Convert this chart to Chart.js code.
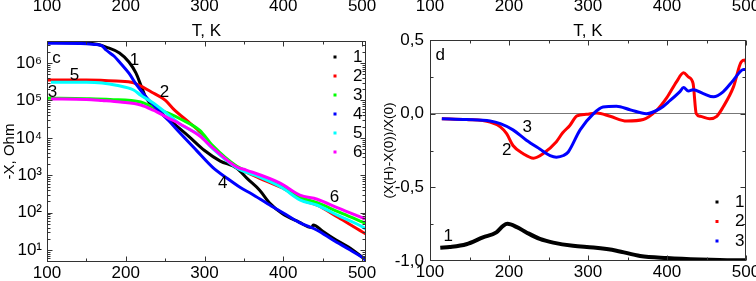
<!DOCTYPE html>
<html>
<head>
<meta charset="utf-8">
<script src="https://cdn.jsdelivr.net/npm/chart.js@4.4.1/dist/chart.umd.min.js"></script>
<style>
html, body { margin: 0; padding: 0; background: #fff; }
#wrap { position: relative; width: 756px; height: 281px; }
.panel { position: absolute; top: 0; width: 378px; height: 281px; }
</style>
</head>
<body>
<div id="wrap">
  <div class="panel" style="left:0"><canvas id="chartC"></canvas></div>
  <div class="panel" style="left:378px"><canvas id="chartD"></canvas></div>
</div>
<script>
// ===== panel c : -X (Ohm) vs T, log scale =====
const tempC1 = [100, 150, 165, 175, 192, 204, 213, 220, 226, 240, 260, 280, 300, 320, 341, 355, 370, 383, 399, 420, 436, 438, 450, 463, 485, 501, 505];
const ohmC1  = [3.55e6, 3.47e6, 3.16e6, 2.69e6, 1.86e6, 1.07e6, 5.4e5, 2.3e5, 1.15e5, 5.6e4, 2.5e4, 1.1e4, 4.6e3, 2.4e3, 1.55e3, 790, 400, 178, 93, 56, 40, 47, 32, 21, 11.2, 6.3, 5.5];

const tempC2 = [100, 150, 188, 210, 233, 250, 262, 280, 294, 310, 341, 370, 399, 425, 443, 470, 501, 505];
const ohmC2  = [3.55e5, 3.55e5, 3.3e5, 2.95e5, 1.66e5, 1.02e5, 5.5e4, 2.63e4, 1.45e4, 5.75e3, 1.66e3, 832, 457, 214, 158, 74, 30, 27];

const tempC3 = [100, 150, 180, 219, 235, 254, 270, 294, 310, 341, 370, 399, 421, 443, 470, 501, 505];
const ohmC3  = [1.15e5, 1.12e5, 1.07e5, 9.1e4, 6.6e4, 4.57e4, 3.16e4, 1.58e4, 6.3e3, 1.74e3, 955, 525, 263, 186, 105, 56, 51];

const tempC4 = [100, 150, 160, 170, 175, 185, 192, 204, 214, 226, 240, 255, 268, 290, 310, 330, 345, 360, 380, 400, 420, 443, 463, 485, 501, 505];
const ohmC4  = [3.39e6, 3.31e6, 3.16e6, 2.88e6, 2.24e6, 1.55e6, 1.07e6, 5.37e5, 2.57e5, 1.23e5, 5.9e4, 2.82e4, 1.41e4, 4.57e3, 1.66e3, 794, 479, 316, 174, 98, 55, 34, 18.6, 10, 6.2, 5.2];

const tempC5 = [105, 150, 170, 188, 210, 219, 233, 250, 270, 294, 310, 341, 370, 399, 421, 443, 470, 501, 505];
const ohmC5  = [3.09e5, 3.09e5, 2.95e5, 2.57e5, 1.91e5, 1.38e5, 9.1e4, 4.9e4, 2.24e4, 1.17e4, 5.25e3, 1.58e3, 891, 457, 219, 158, 83, 41, 36];

const tempC6 = [105, 150, 170, 193, 219, 235, 254, 270, 294, 310, 341, 353, 396, 421, 443, 470, 501, 505];
const ohmC6  = [1.1e5, 1.07e5, 1.0e5, 9.1e4, 7.6e4, 5.5e4, 3.39e4, 2.29e4, 1.12e4, 5.5e3, 1.66e3, 1.38e3, 617, 295, 229, 132, 72, 66];

// ===== panel d : (X(H)-X(0))/X(0) vs T =====
const tempD1 = [113, 125, 146, 167, 184, 193, 198, 210, 222, 239, 256, 281, 307, 336, 366, 400, 442, 484, 500];
const relD1  = [-0.91, -0.905, -0.886, -0.84, -0.806, -0.76, -0.748, -0.77, -0.806, -0.85, -0.875, -0.897, -0.909, -0.93, -0.966, -0.98, -0.99, -0.995, -0.995];

const tempD2 = [115, 146, 176, 189, 197, 205, 218, 231, 243, 260, 268, 277, 286, 298, 311, 328, 349, 370, 387, 400, 412, 421, 427, 433, 437, 442, 454, 463, 471, 484, 494, 499, 501];
const relD2  = [-0.034, -0.04, -0.057, -0.09, -0.136, -0.216, -0.272, -0.302, -0.272, -0.19, -0.13, -0.08, -0.015, -0.004, 0.005, -0.018, -0.05, -0.04, 0.023, 0.11, 0.216, 0.277, 0.25, 0.205, 0.0, -0.018, -0.034, -0.018, 0.045, 0.18, 0.352, 0.364, 0.32];

const tempD3 = [115, 146, 176, 189, 205, 222, 239, 252, 260, 269, 275, 290, 307, 319, 336, 353, 374, 391, 404, 416, 421, 427, 433, 446, 459, 471, 484, 497, 501];
const relD3  = [-0.034, -0.04, -0.05, -0.068, -0.11, -0.18, -0.24, -0.284, -0.295, -0.284, -0.26, -0.11, 0.0, 0.045, 0.05, 0.027, 0.0, 0.034, 0.09, 0.148, 0.177, 0.154, 0.163, 0.136, 0.114, 0.148, 0.227, 0.3, 0.3];

// ticks
const xTicks = [100, 200, 300, 400, 500];
const xMinor = [150, 250, 350, 450];
const yTicksC = [10, 100, 1000, 1e4, 1e5, 1e6];
const yTicksD = [-1.0, -0.5, 0.0, 0.5];
const yMinorD = [-0.75, -0.25, 0.25];

const FONT = '"Liberation Sans", Arial, sans-serif';
const SUP = { 1: '\u00b9', 2: '\u00b2', 3: '\u00b3', 4: '\u2074', 5: '\u2075', 6: '\u2076' };

function pts(t, v) { return t.map((x, i) => ({ x: x, y: v[i] })); }

function line(data, color, width, order) {
    return { data: data, borderColor: color, backgroundColor: color, borderWidth: width,
             pointRadius: 0, cubicInterpolationMode: 'monotone', order: order,
             xAxisID: 'x', yAxisID: 'y' };
}

// log minor ticks 2..9 per decade inside range
const yMinorC = [5, 6, 7, 8, 9];
for (let d = 10; d <= 1e6; d *= 10) {
    for (let m = 2; m <= 9; m++) {
        if (m * d <= 3.9e6) yMinorC.push(m * d);
    }
}

// frame, inward ticks, curve labels, legend
const decor = {
    id: 'decor',
    afterDatasetsDraw(chart, args, o) {
        const ctx = chart.ctx, a = chart.chartArea;
        const xs = chart.scales.x, ys = chart.scales.y;
        const L = Math.round(a.left) + 0.5, R = Math.round(a.right) - 0.5;
        const T = Math.round(a.top) + 0.5, B = Math.round(a.bottom) - 0.5;
        ctx.save();
        ctx.strokeStyle = '#333';
        ctx.lineWidth = 1;
        ctx.strokeRect(L, T, R - L, B - T);
        ctx.beginPath();
        const tx = (v, len) => {
            const p = Math.round(xs.getPixelForValue(v)) + 0.5;
            ctx.moveTo(p, B); ctx.lineTo(p, B - len);
            ctx.moveTo(p, T); ctx.lineTo(p, T + len);
        };
        const ty = (v, len) => {
            const p = Math.round(ys.getPixelForValue(v)) + 0.5;
            if (p < T || p > B) return;
            ctx.moveTo(L, p); ctx.lineTo(L + len, p);
            ctx.moveTo(R, p); ctx.lineTo(R - len, p);
        };
        xTicks.forEach(v => tx(v, 5));
        xMinor.forEach(v => tx(v, 3));
        o.yMajor.forEach(v => ty(v, 5));
        o.yMinor.forEach(v => ty(v, 3));
        ctx.stroke();

        ctx.fillStyle = '#000';
        ctx.font = '17px ' + FONT;
        ctx.textAlign = 'center';
        ctx.textBaseline = 'middle';
        o.notes.forEach(n => ctx.fillText(n.text, xs.getPixelForValue(n.x), ys.getPixelForValue(n.y)));

        const lg = o.legend;
        ctx.textAlign = 'left';
        lg.items.forEach((it, i) => {
            const y = (lg.fromBottom ? a.bottom - lg.dy : a.top + lg.dy) + i * lg.gap;
            ctx.fillStyle = it.color;
            ctx.fillRect(a.right - lg.dotDx - 1.5, y - 1.5, 3, 3);
            ctx.fillStyle = '#000';
            ctx.fillText(it.text, a.right - lg.textDx, y);
        });
        ctx.restore();
    }
};

function xAxes(min, max, bottomH, titleH, labelH) {
    const tickFont = { family: FONT, size: 17 };
    const setTicks = s => { s.ticks = xTicks.map(v => ({ value: v })); };
    const noPad = s => { s.paddingLeft = 0; s.paddingRight = 0; };
    return {
        x: { type: 'linear', position: 'bottom', min: min, max: max,
             afterBuildTicks: setTicks,
             afterFit: s => { s.height = bottomH; noPad(s); },
             grid: { display: false, drawTicks: false }, border: { display: false },
             ticks: { color: '#000', font: tickFont, padding: 1, autoSkip: false, maxRotation: 0 } },
        xTitle: { type: 'linear', position: 'top', min: min, max: max, weight: 0,
             afterFit: s => { s.height = titleH; noPad(s); },
             grid: { display: false, drawTicks: false }, border: { display: false }, ticks: { display: false },
             title: { display: true, text: 'T, K', color: '#000', font: tickFont, padding: { top: 1, bottom: 0 } } },
        xTop: { type: 'linear', position: 'top', min: min, max: max, weight: 1,
             afterBuildTicks: setTicks,
             afterFit: s => { s.height = labelH; noPad(s); },
             grid: { display: false, drawTicks: false }, border: { display: false },
             ticks: { color: '#000', font: tickFont, padding: 3, autoSkip: false, maxRotation: 0 } }
    };
}

const baseOpts = {
    responsive: true,
    maintainAspectRatio: false,
    animation: false,
    devicePixelRatio: 1,
    events: []
};

// ---- chart c ----
const scalesC = xAxes(100, 505, 19, 21, 20);
scalesC.y = {
    type: 'logarithmic', position: 'left', min: 4.8, max: 3.9e6,
    afterBuildTicks: s => { s.ticks = yTicksC.map(v => ({ value: v })); },
    afterFit: s => { s.width = 47; s.paddingTop = 0; s.paddingBottom = 0; },
    grid: { display: false, drawTicks: false }, border: { display: false },
    ticks: { color: '#000', font: { family: FONT, size: 17 }, padding: 5,
             callback: v => '10' + SUP[Math.round(Math.log10(v))] },
    title: { display: true, text: '-X, Ohm', color: '#000', font: { family: FONT, size: 15 }, padding: { top: 1, bottom: 0 } }
};

new Chart(document.getElementById('chartC'), {
    type: 'line',
    data: {
        datasets: [
            line(pts(tempC1, ohmC1), '#000000', 3, 6),
            line(pts(tempC2, ohmC2), '#ff0000', 3, 5),
            line(pts(tempC3, ohmC3), '#00ff00', 3, 4),
            line(pts(tempC4, ohmC4), '#0000ff', 3, 3),
            line(pts(tempC5, ohmC5), '#00ffff', 3, 2),
            line(pts(tempC6, ohmC6), '#ff00ff', 3, 1)
        ]
    },
    options: Object.assign({}, baseOpts, {
        layout: { padding: { left: 0, right: 12, top: 0, bottom: 0 } },
        scales: scalesC,
        plugins: {
            legend: { display: false },
            tooltip: { enabled: false },
            decor: {
                yMajor: yTicksC, yMinor: yMinorC,
                notes: [
                    { text: 'c', x: 112, y: 1.34e6 },
                    { text: '1', x: 211, y: 1.2e6 },
                    { text: '5', x: 135, y: 4.8e5 },
                    { text: '3', x: 107, y: 1.67e5 },
                    { text: '2', x: 249, y: 1.67e5 },
                    { text: '4', x: 323, y: 620 },
                    { text: '6', x: 465, y: 263 }
                ],
                legend: {
                    fromBottom: false, dy: 16, gap: 19, dotDx: 31, textDx: 13,
                    items: [
                        { text: '1', color: '#000000' }, { text: '2', color: '#ff0000' },
                        { text: '3', color: '#00ff00' }, { text: '4', color: '#0000ff' },
                        { text: '5', color: '#00ffff' }, { text: '6', color: '#ff00ff' }
                    ]
                }
            }
        }
    }),
    plugins: [decor]
});

// ---- chart d ----
const scalesD = xAxes(100, 500, 20, 20, 20);
scalesD.y = {
    type: 'linear', position: 'left', min: -1.0, max: 0.5,
    afterBuildTicks: s => { s.ticks = yTicksD.map(v => ({ value: v })); },
    afterFit: s => { s.width = 52; s.paddingTop = 0; s.paddingBottom = 0; },
    grid: { display: true, drawTicks: false, lineWidth: 1,
            color: c => (c.tick && c.tick.value === 0 ? '#777' : 'rgba(0,0,0,0)') },
    border: { display: false },
    ticks: { color: '#000', font: { family: FONT, size: 17 }, padding: 6,
             callback: v => v.toFixed(1).replace('.', ',') },
    title: { display: true, text: '(X(H)-X(0))/X(0)', color: '#000', font: { family: FONT, size: 13.5 }, padding: { top: 3, bottom: 0 } }
};

new Chart(document.getElementById('chartD'), {
    type: 'line',
    data: {
        datasets: [
            line(pts(tempD1, relD1), '#000000', 4, 3),
            line(pts(tempD2, relD2), '#ff0000', 3, 2),
            line(pts(tempD3, relD3), '#0000ff', 3, 1)
        ]
    },
    options: Object.assign({}, baseOpts, {
        layout: { padding: { left: 0, right: 10, top: 0, bottom: 0 } },
        scales: scalesD,
        plugins: {
            legend: { display: false },
            tooltip: { enabled: false },
            decor: {
                yMajor: yTicksD, yMinor: yMinorD,
                notes: [
                    { text: 'd', x: 113, y: 0.398 },
                    { text: '3', x: 223, y: -0.093 },
                    { text: '2', x: 197, y: -0.25 },
                    { text: '1', x: 123, y: -0.83 }
                ],
                legend: {
                    fromBottom: true, dy: 59, gap: 19.5, dotDx: 29, textDx: 11,
                    items: [
                        { text: '1', color: '#000000' }, { text: '2', color: '#ff0000' },
                        { text: '3', color: '#0000ff' }
                    ]
                }
            }
        }
    }),
    plugins: [decor]
});
</script>
</body>
</html>
